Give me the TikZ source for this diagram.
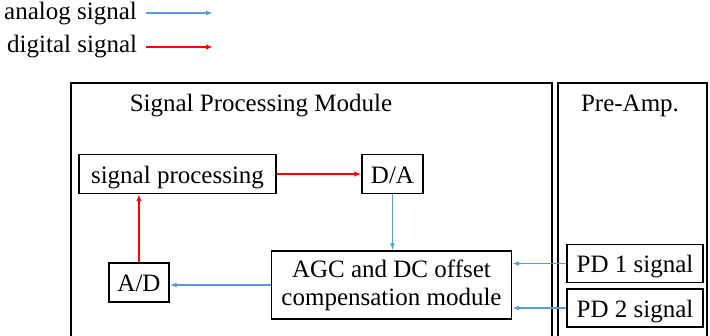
\documentclass[tikz,border=0pt]{standalone}
\usepackage{fontspec}
\setmainfont{Liberation Serif}
\usetikzlibrary{arrows.meta}
\definecolor{ablue}{RGB}{91,155,213}
\definecolor{dred}{RGB}{255,0,0}
\begin{document}
\begin{tikzpicture}[x=1pt,y=-1pt,
  every node/.style={font=\fontsize{25}{28}\selectfont, inner sep=0pt},
  blk/.style={draw=black, line width=1.4pt, minimum height=39pt},
  sblk/.style={blk, text height=18pt, text depth=0pt},
  frame/.style={draw=black, line width=1.3pt},
  ana/.style={draw=ablue, line width=1.4pt, -{Latex[length=7pt,width=5pt]}},
  dig/.style={draw=dred, line width=1.9pt, -{Latex[length=7pt,width=5.5pt]}}]
\useasboundingbox (0,0) rectangle (710,335);
\clip (0,0) rectangle (710,335);
% frames
\draw[frame] (71,340) -- (71,83) -- (552,83) -- (552,340);
\draw[frame] (558,340) -- (558,83) -- (707,83) -- (707,340);
\node[anchor=base] (t1) at (261,111) {Signal Processing Module};
\node[anchor=base] (t2) at (630,111) {Pre-Amp.};
% legend
\node[anchor=base west] (la) at (4,19) {analog signal};
\node[anchor=base west] (ld) at (7,52) {digital signal};
\coordinate (la1) at (146,13);
\coordinate (la2) at (213,13);
\coordinate (ld1) at (146,47);
\coordinate (ld2) at (213,47);
\draw[ana] (la1) -- (la2);
\draw[dig] (ld1) -- (ld2);
% blocks
\node[sblk, minimum width=197pt] (sp) at (177.5,174) {signal processing};
\node[sblk, minimum width=61pt] (da) at (392.5,174) {D/A};
\node[sblk, minimum width=60pt] (ad) at (139,282.5) {A/D};
\node[blk, minimum width=240pt, minimum height=68pt, align=center] (agc) at (391.5,285) {AGC and DC offset\\compensation module};
\node[sblk, minimum width=136pt, minimum height=38pt] (pd1) at (635,263.5) {PD 1 signal};
\node[sblk, minimum width=136pt, minimum height=38pt] (pd2) at (635,308) {PD 2 signal};
% connectors
\draw[dig] (sp.east) -- (da.west);
\draw[dig] (ad.north) -- (sp.south -| ad.north);
\draw[ana] (da.south) -- (agc.north -| da.south);
\draw[ana] (agc.west) -- (agc.west -| ad.east);
\draw[ana] (pd1.west) -- (agc.east |- pd1.west);
\draw[ana] (pd2.west) -- (agc.east |- pd2.west);
\end{tikzpicture}
\end{document}
